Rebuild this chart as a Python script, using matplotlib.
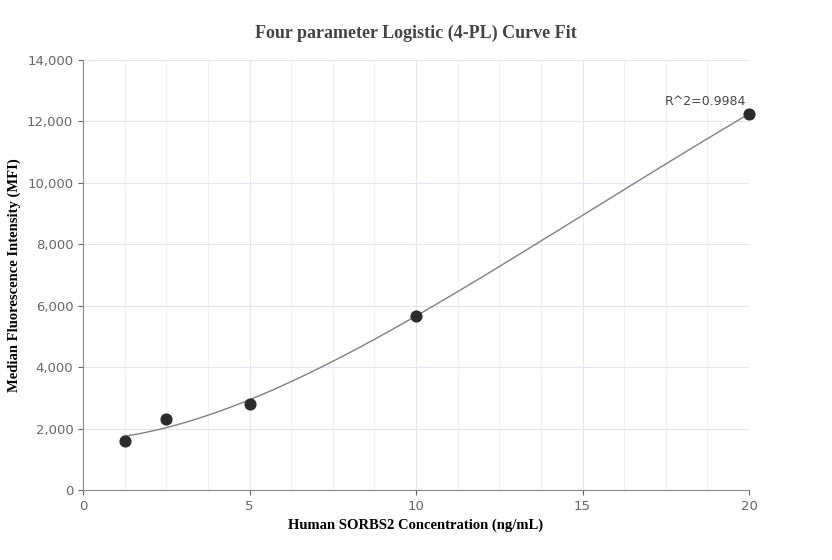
import numpy as np
import matplotlib
matplotlib.use("Agg")
import matplotlib.pyplot as plt
from matplotlib.ticker import FuncFormatter, MultipleLocator

conc = [1.25, 2.5, 5, 10, 20]
mfi = [1600, 2300, 2800, 5680, 12250]
r2_label = "R^2=0.9984"

x = np.array(conc, float); y = np.array(mfi, float)
best = None
for b in np.linspace(0.5, 4, 71):
    for c in np.logspace(0, 3, 121):
        g = 1 / (1 + (x / c) ** b)
        A = np.vstack([g, 1 - g]).T
        coef, *_ = np.linalg.lstsq(A, y, rcond=None)
        err = np.sum((A @ coef - y) ** 2)
        if best is None or err < best[0]:
            best = (err, b, c, coef)
_, b, c, (a, d) = best
xs = np.linspace(min(conc), max(conc), 300)
gs = 1 / (1 + (xs / c) ** b)
ys = a * gs + d * (1 - gs)

fig = plt.figure(figsize=(8.32, 5.6), dpi=100)
ax = fig.add_axes([83/832, 70/560, 666/832, 430/560])
ax.plot(xs, ys, color="#808080", lw=1)
ax.scatter(conc, mfi, s=60, color="#2b2b2b", zorder=3, clip_on=False)
ax.annotate(r2_label, (conc[-1], mfi[-1]), xytext=(-2, 4), textcoords="offset points",
            ha="right", va="bottom", fontsize=9, color="#444444")
ax.set_xlim(0, 20); ax.set_ylim(0, 14000)
ax.xaxis.set_major_locator(MultipleLocator(5))
ax.xaxis.set_minor_locator(MultipleLocator(1.25))
ax.yaxis.set_major_locator(MultipleLocator(2000))
ax.yaxis.set_major_formatter(FuncFormatter(lambda v, p: f"{int(v):,}"))
ax.grid(True, which="major", color="#e3e6ef", lw=0.8)
ax.grid(True, which="minor", color="#f0f2f7", lw=0.8)
ax.set_axisbelow(True)
for s in ["top", "right"]:
    ax.spines[s].set_visible(False)
for s in ["left", "bottom"]:
    ax.spines[s].set_color("#888888")
ax.tick_params(which="minor", length=0)
ax.tick_params(colors="#666666", labelsize=9.5)
serif = "Liberation Serif"
ax.set_title("Four parameter Logistic (4-PL) Curve Fit", fontfamily=serif,
             fontweight="bold", fontsize=13, color="#444444", pad=16)
ax.set_xlabel("Human SORBS2 Concentration (ng/mL)", fontfamily=serif, fontweight="bold", fontsize=10.5)
ax.set_ylabel("Median Fluorescence Intensity (MFI)", fontfamily=serif, fontweight="bold", fontsize=10.5)
fig.savefig("out.png", dpi=100)
